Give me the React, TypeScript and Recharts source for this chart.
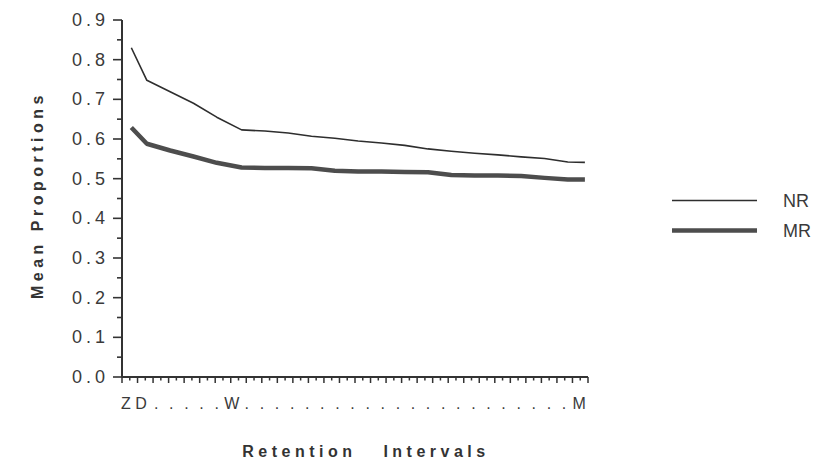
import React from 'react';
import { LineChart, Line, XAxis, YAxis, Legend } from 'recharts';

// Retention interval positions (days) of each plotted point
const days = [0.6, 1.6, 3.1, 4.6, 6.1, 7.7, 9.2, 10.7, 12.2, 13.7, 15.2, 16.7, 18.2, 19.7, 21.2, 22.7, 24.2, 25.7, 27.2, 28.7, 29.8];
// Mean proportions, NR condition
const nrValues = [0.830, 0.748, 0.719, 0.690, 0.655, 0.623, 0.620, 0.615, 0.607, 0.602, 0.595, 0.590, 0.584, 0.575, 0.569, 0.564, 0.560, 0.555, 0.551, 0.542, 0.541];
// Mean proportions, MR condition
const mrValues = [0.629, 0.588, 0.571, 0.556, 0.540, 0.528, 0.527, 0.527, 0.526, 0.520, 0.518, 0.518, 0.517, 0.516, 0.509, 0.508, 0.508, 0.507, 0.502, 0.498, 0.498];

// X axis labels at each whole day 0..30
const xDayLabels = ['Z', 'D', '.', '.', '.', '.', '.', 'W', '.', '.', '.', '.', '.', '.', '.', '.', '.', '.', '.', '.', '.', '.', '.', '.', '.', '.', '.', '.', '.', '.', 'M'];
// Y axis ticks (major with labels, minor between)
const yTickValues = [0, 0.05, 0.1, 0.15, 0.2, 0.25, 0.3, 0.35, 0.4, 0.45, 0.5, 0.55, 0.6, 0.65, 0.7, 0.75, 0.8, 0.85, 0.9];
const yTickLabels = ['0.0', '0.1', '0.2', '0.3', '0.4', '0.5', '0.6', '0.7', '0.8', '0.9'];

const seriesNames = ['NR', 'MR'];

const data = days.map((d, i) => ({ day: d, nr: nrValues[i], mr: mrValues[i] }));
const xTicks: number[] = [];
for (let i = 0; i <= 60; i++) xTicks.push(i / 2);

const FONT = '"Liberation Sans", Arial, Helvetica, sans-serif';
const INK = '#333';

const YTick = (props: any) => {
  const { x, y, payload } = props;
  const v = payload.value as number;
  const idx = Math.round(v * 100);
  const major = idx % 10 === 0;
  return (
    <g>
      <line x1={x - (major ? 9 : 5)} y1={y} x2={x} y2={y} stroke={INK} strokeWidth={1.6} />
      {major && (
        <text x={x - 13} y={y} dy={6} textAnchor="end" fontFamily={FONT} fontSize={18} letterSpacing={4} fill="#3a3a3a">
          {yTickLabels[idx / 10]}
        </text>
      )}
    </g>
  );
};

// the typed labels under the axis run slightly tighter than the ticks
const LABEL_SHIFT = 4;
const LABEL_TIGHTEN = 0.43;

const XTick = (props: any) => {
  const { x, y, payload } = props;
  const v = payload.value as number;
  const whole = Math.abs(v - Math.round(v)) < 1e-6;
  const label = whole ? xDayLabels[Math.round(v)] : '';
  return (
    <g>
      <line x1={x} y1={y} x2={x} y2={y + (whole ? 6 : 3.5)} stroke={INK} strokeWidth={1.5} />
      {label && (
        <text x={x + LABEL_SHIFT - LABEL_TIGHTEN * v} y={y + 32} textAnchor="middle" fontFamily={FONT} fontSize={16} fill="#3a3a3a">
          {label}
        </text>
      )}
    </g>
  );
};

const XTitle = () => (
  <text x={366} y={457} textAnchor="middle" fontFamily={FONT} fontSize={16} fontWeight="bold" letterSpacing={4.5} fill={INK} style={{ whiteSpace: 'pre' }}>
    {'Retention   Intervals'}
  </text>
);

const YTitle = () => (
  <text x={0} y={0} transform="translate(43,195) rotate(-90)" textAnchor="middle" fontFamily={FONT} fontSize={16} fontWeight="bold" letterSpacing={4.5} fill={INK} style={{ whiteSpace: 'pre' }}>
    {'Mean Proportions'}
  </text>
);

const widths: Record<string, number> = { NR: 1.6, MR: 4.5 };

const LegendContent = (props: any) => {
  const payload = [...(props.payload || [])].sort(
    (a: any, b: any) => seriesNames.indexOf(a.value) - seriesNames.indexOf(b.value)
  );
  return (
    <svg width={150} height={60}>
      {payload.map((p: any, i: number) => (
        <g key={i}>
          <line x1={7} y1={15.5 + i * 30} x2={92} y2={15.5 + i * 30} stroke={p.color} strokeWidth={widths[p.value] || 2} />
          <text x={118} y={22 + i * 30} fontFamily={FONT} fontSize={18} fill="#3a3a3a">{p.value}</text>
        </g>
      ))}
    </svg>
  );
};

export default function App() {
  return (
    <div style={{ position: 'absolute', left: 0, top: 0, background: '#fff' }}>
      <LineChart width={815} height={463} data={data} margin={{ top: 20, right: 227, left: 22, bottom: 46 }}>
        <XAxis
          dataKey="day"
          type="number"
          domain={[0, 30]}
          ticks={xTicks}
          interval={0}
          tick={<XTick />}
          tickLine={false}
          tickSize={0}
          tickMargin={0}
          height={40}
          axisLine={{ stroke: INK, strokeWidth: 2 }}
          label={{ content: <XTitle /> }}
        />
        <YAxis
          type="number"
          domain={[0, 0.9]}
          ticks={yTickValues}
          interval={0}
          tick={<YTick />}
          tickLine={false}
          tickSize={0}
          tickMargin={0}
          width={100}
          axisLine={{ stroke: INK, strokeWidth: 2 }}
          label={{ content: <YTitle /> }}
        />
        <Legend
          layout="vertical"
          align="center"
          verticalAlign="middle"
          wrapperStyle={{ left: 665, top: 185, width: 150 }}
          content={<LegendContent />}
        />
        <Line type="linear" dataKey="nr" name={seriesNames[0]} stroke="#2e2e2e" strokeWidth={1.6} dot={false} isAnimationActive={false} strokeLinejoin="round" />
        <Line type="linear" dataKey="mr" name={seriesNames[1]} stroke="#4d4d4d" strokeWidth={4.5} dot={false} isAnimationActive={false} strokeLinejoin="round" />
      </LineChart>
    </div>
  );
}
